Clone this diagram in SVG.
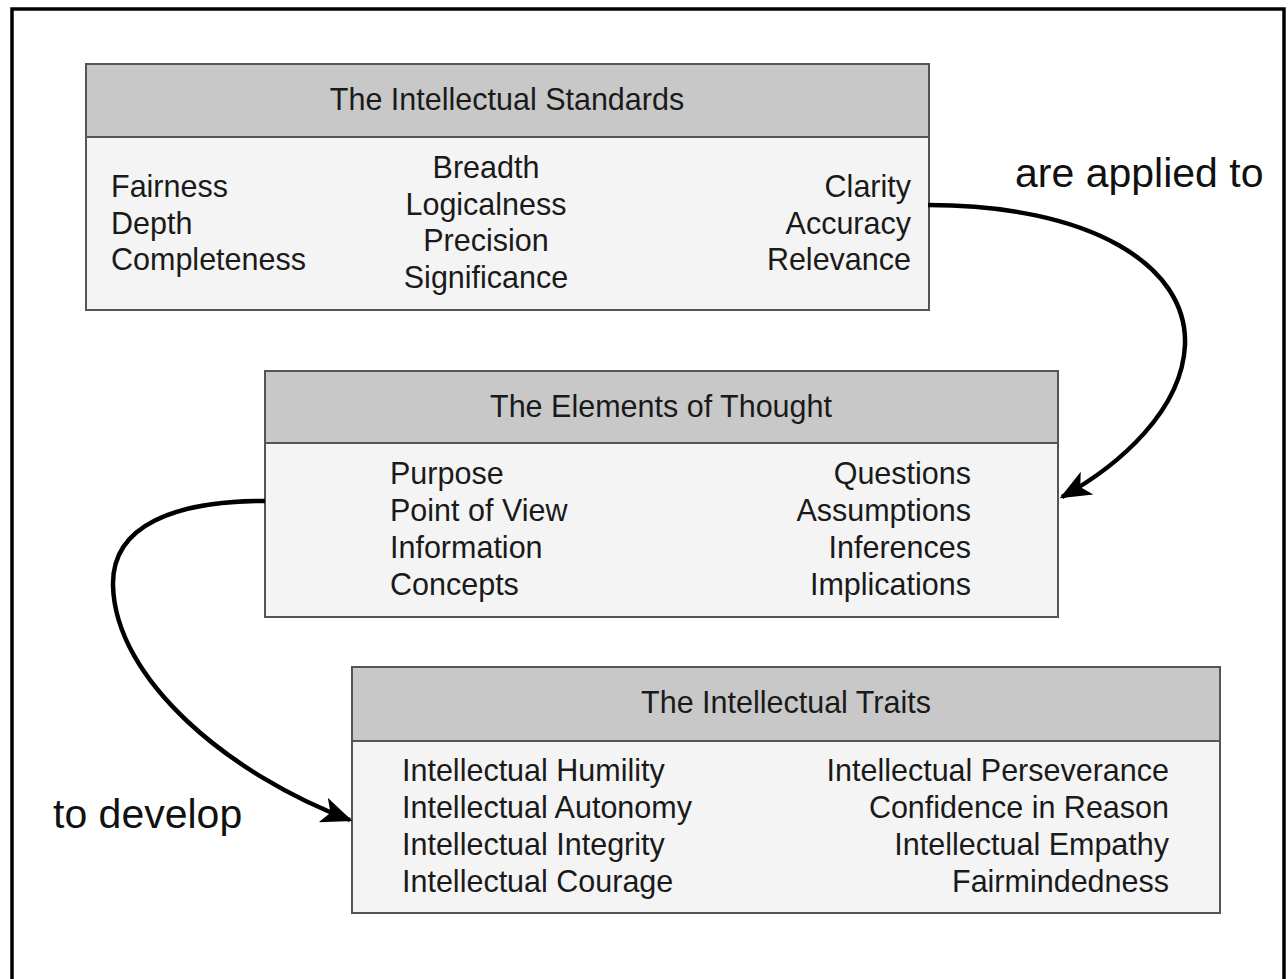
<svg xmlns="http://www.w3.org/2000/svg" width="1288" height="979" viewBox="0 0 1288 979">
<style>
.t{font-family:"Liberation Sans",Arial,sans-serif;font-size:30.5px;fill:#1a1a1a}
.lbl{font-family:"Liberation Sans",Arial,sans-serif;font-size:41px;fill:#111}
.hd{fill:#c8c8c8;stroke:#555;stroke-width:2}
.bd{fill:#f4f4f4;stroke:#555;stroke-width:2}
.m{text-anchor:middle}
.e{text-anchor:end}
.c{fill:none;stroke:#000;stroke-width:4.5}
</style>
<defs>
<marker id="arr" viewBox="0 0 12 10" refX="11" refY="5" markerWidth="34" markerHeight="26" markerUnits="userSpaceOnUse" orient="auto">
<path d="M0,0 L12,5 L0,10 L3,5 z" fill="#000"/>
</marker>
</defs>
<rect x="0" y="0" width="1288" height="979" fill="#fff"/>
<rect x="12" y="9" width="1272" height="990" fill="none" stroke="#000" stroke-width="3.5"/>

<g id="standards">
<rect class="bd" x="86" y="64" width="843" height="246"/>
<rect class="hd" x="86" y="64" width="843" height="73"/>
<text class="t m" x="507" y="110">The Intellectual Standards</text>
<text class="t" x="111" y="197">Fairness</text>
<text class="t" x="111" y="234">Depth</text>
<text class="t" x="111" y="270">Completeness</text>
<text class="t m" x="486" y="178">Breadth</text>
<text class="t m" x="486" y="215">Logicalness</text>
<text class="t m" x="486" y="251">Precision</text>
<text class="t m" x="486" y="288">Significance</text>
<text class="t e" x="911" y="197">Clarity</text>
<text class="t e" x="911" y="234">Accuracy</text>
<text class="t e" x="911" y="270">Relevance</text>
</g>

<g id="elements">
<rect class="bd" x="265" y="371" width="793" height="246"/>
<rect class="hd" x="265" y="371" width="793" height="72"/>
<text class="t m" x="661" y="417">The Elements of Thought</text>
<text class="t" x="390" y="484">Purpose</text>
<text class="t" x="390" y="521">Point of View</text>
<text class="t" x="390" y="558">Information</text>
<text class="t" x="390" y="595">Concepts</text>
<text class="t e" x="971" y="484">Questions</text>
<text class="t e" x="971" y="521">Assumptions</text>
<text class="t e" x="971" y="558">Inferences</text>
<text class="t e" x="971" y="595">Implications</text>
</g>

<g id="traits">
<rect class="bd" x="352" y="667" width="868" height="246"/>
<rect class="hd" x="352" y="667" width="868" height="74"/>
<text class="t m" x="786" y="713">The Intellectual Traits</text>
<text class="t" x="402" y="781">Intellectual Humility</text>
<text class="t" x="402" y="818">Intellectual Autonomy</text>
<text class="t" x="402" y="855">Intellectual Integrity</text>
<text class="t" x="402" y="892">Intellectual Courage</text>
<text class="t e" x="1169" y="781">Intellectual Perseverance</text>
<text class="t e" x="1169" y="818">Confidence in Reason</text>
<text class="t e" x="1169" y="855">Intellectual Empathy</text>
<text class="t e" x="1169" y="892">Fairmindedness</text>
</g>

<g id="connectors">
<path class="c" d="M928,205 C1090,205 1188,265 1185,345 C1182,410 1120,465 1062,497" marker-end="url(#arr)"/>
<path class="c" d="M265,501 C175,501 112,525 113,585 C115,680 230,775 350,820" marker-end="url(#arr)"/>
<text class="lbl" x="1015" y="187">are applied to</text>
<text class="lbl" x="53" y="828">to develop</text>
</g>
</svg>
